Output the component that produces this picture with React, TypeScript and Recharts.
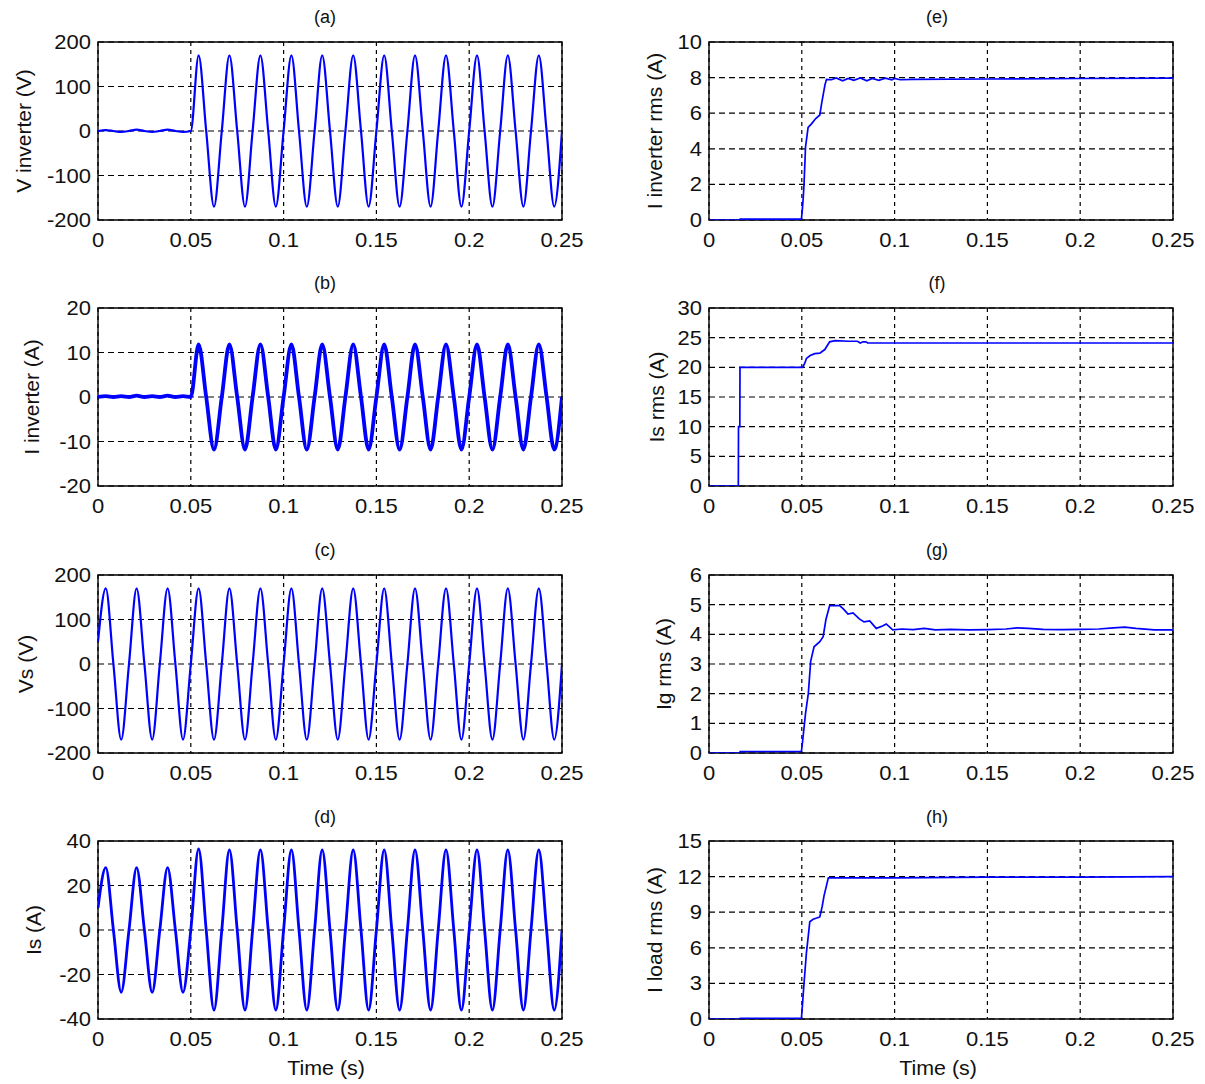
import React from "react"
import { CartesianGrid, Line, LineChart, ReferenceArea, XAxis, YAxis } from "recharts"

const FONT = "'Liberation Sans', Arial, Helvetica, sans-serif"
const BLUE = "#0000ff"
const INK = "#111"

const X_TICKS = [0, 0.05, 0.1, 0.15, 0.2, 0.25]

// quarter-cycle sample times (60 Hz) shared by the four waveforms
const T_Q = [
  0, 0.0042, 0.0083, 0.0125, 0.0167, 0.0208, 0.025, 0.0292, 0.0333, 0.0375,
  0.0417, 0.0458, 0.05, 0.0542, 0.0583, 0.0625, 0.0667, 0.0708, 0.075, 0.0792,
  0.0833, 0.0875, 0.0917, 0.0958, 0.1, 0.1042, 0.1083, 0.1125, 0.1167, 0.1208,
  0.125, 0.1292, 0.1333, 0.1375, 0.1417, 0.1458, 0.15, 0.1542, 0.1583, 0.1625,
  0.1667, 0.1708, 0.175, 0.1792, 0.1833, 0.1875, 0.1917, 0.1958, 0.2, 0.2042,
  0.2083, 0.2125, 0.2167, 0.2208, 0.225, 0.2292, 0.2333, 0.2375, 0.2417, 0.2458,
  0.25,
]

// (a) inverter voltage
const V_INV = [
  0, 2, 0, -2, 0, 3, 0, -2, 0, 3,
  0, -2, 0, 170, 0, -170, 0, 170, 0, -170,
  0, 170, 0, -170, 0, 170, 0, -170, 0, 170,
  0, -170, 0, 170, 0, -170, 0, 170, 0, -170,
  0, 170, 0, -170, 0, 170, 0, -170, 0, 170,
  0, -170, 0, 170, 0, -170, 0, 170, 0, -170,
  0,
]

// (b) inverter current
const I_INV = [
  0, 0.2, 0, 0.2, 0, 0.3, 0, 0.2, 0, 0.3,
  0, 0.2, 0, 11.8, 0, -11.8, 0, 11.8, 0, -11.8,
  0, 11.8, 0, -11.8, 0, 11.8, 0, -11.8, 0, 11.8,
  0, -11.8, 0, 11.8, 0, -11.8, 0, 11.8, 0, -11.8,
  0, 11.8, 0, -11.8, 0, 11.8, 0, -11.8, 0, 11.8,
  0, -11.8, 0, 11.8, 0, -11.8, 0, 11.8, 0, -11.8,
  0,
]

// (c) source voltage
const VS = [
  50, 170, 0, -170, 0, 170, 0, -170, 0, 170,
  0, -170, 0, 170, 0, -170, 0, 170, 0, -170,
  0, 170, 0, -170, 0, 170, 0, -170, 0, 170,
  0, -170, 0, 170, 0, -170, 0, 170, 0, -170,
  0, 170, 0, -170, 0, 170, 0, -170, 0, 170,
  0, -170, 0, 170, 0, -170, 0, 170, 0, -170,
  0,
]

// (d) source current
const IS = [
  10, 28, 0, -28, 0, 28, 0, -28, 0, 28,
  0, -28, 0, 36.5, 0, -36, 0, 36, 0, -36,
  0, 36, 0, -36, 0, 36, 0, -36, 0, 36,
  0, -36, 0, 36, 0, -36, 0, 36, 0, -36,
  0, 36, 0, -36, 0, 36, 0, -36, 0, 36,
  0, -36, 0, 36, 0, -36, 0, 36, 0, -36,
  0,
]

// (e) inverter current rms
const I_INV_RMS_T = [
  0, 0.0167, 0.0168, 0.0498, 0.0503, 0.0508, 0.0512, 0.052, 0.0534, 0.0552,
  0.0575, 0.0597, 0.0606, 0.0625, 0.0633, 0.066, 0.0685, 0.072, 0.075, 0.078,
  0.0815, 0.085, 0.088, 0.0915, 0.095, 0.0985, 0.1, 0.103, 0.11, 0.15, 0.2, 0.25,
]
const I_INV_RMS = [
  0, 0, 0.05, 0.05, 0.6, 1.3, 2, 4.1, 5.2, 5.4,
  5.7, 5.9, 6.5, 7.6, 7.9, 7.88, 7.98, 7.82, 7.95, 7.85,
  7.98, 7.82, 7.95, 7.85, 7.97, 7.88, 7.95, 7.88, 7.9, 7.92, 7.95, 7.97,
]

// (f) source current rms
const IS_RMS_T = [
  0, 0.0158, 0.0159, 0.0166, 0.0167, 0.0505, 0.0516, 0.0525, 0.0545, 0.057,
  0.0597, 0.0624, 0.065, 0.068, 0.075, 0.08, 0.0815, 0.083, 0.0845, 0.0855,
  0.1, 0.15, 0.2, 0.25,
]
const IS_RMS = [
  0, 0, 10, 10, 20, 20, 20.7, 21.5, 22, 22.3,
  22.4, 23, 24.3, 24.5, 24.4, 24.4, 24.1, 24.3, 24.3, 24.1,
  24.1, 24.1, 24.1, 24.1,
]

// (g) grid current rms
const IG_RMS_T = [
  0, 0.0167, 0.0168, 0.0498, 0.0505, 0.052, 0.0535, 0.0548, 0.0566, 0.0597,
  0.0615, 0.063, 0.065, 0.0704, 0.0725, 0.0749, 0.0776, 0.081, 0.0835, 0.0866,
  0.0901, 0.0935, 0.0955, 0.099, 0.104, 0.11, 0.116, 0.122, 0.13, 0.14,
  0.15, 0.16, 0.166, 0.172, 0.18, 0.19, 0.2, 0.21, 0.218, 0.224,
  0.23, 0.24, 0.25,
]
const IG_RMS = [
  0, 0, 0.05, 0.05, 0.43, 1.33, 2.0, 3.1, 3.58, 3.75,
  3.92, 4.5, 4.97, 4.97, 4.85, 4.68, 4.72, 4.52, 4.42, 4.45,
  4.2, 4.28, 4.35, 4.15, 4.18, 4.16, 4.2, 4.15, 4.17, 4.15,
  4.16, 4.18, 4.22, 4.2, 4.17, 4.16, 4.17, 4.18, 4.22, 4.24,
  4.2, 4.15, 4.15,
]

// (h) load current rms
const ILOAD_RMS_T = [
  0, 0.0167, 0.0168, 0.0498, 0.0505, 0.0511, 0.0525, 0.0535, 0.0543, 0.0561,
  0.0597, 0.061, 0.062, 0.0643, 0.07, 0.1, 0.15, 0.2, 0.25,
]
const ILOAD_RMS = [
  0, 0, 0.05, 0.05, 1.5, 2.8, 5.6, 7.0, 8.2, 8.4,
  8.6, 9.5, 10.4, 11.9, 11.9, 11.9, 11.95, 11.95, 12,
]

interface Panel {
  id: string
  title: string
  ylabel: string
  t: number[]
  v: number[]
  yTicks: number[]
  col: number
  row: number
  labelX: number
  stroke: number
  smooth: boolean
}

const PANELS: Panel[] = [
  { id: "a", title: "(a)", ylabel: "V inverter (V)", t: T_Q, v: V_INV, yTicks: [-200, -100, 0, 100, 200], col: 0, row: 0, labelX: 24, stroke: 2.2, smooth: true },
  { id: "b", title: "(b)", ylabel: "I inverter (A)", t: T_Q, v: I_INV, yTicks: [-20, -10, 0, 10, 20], col: 0, row: 1, labelX: 32, stroke: 3.8, smooth: true },
  { id: "c", title: "(c)", ylabel: "Vs (V)", t: T_Q, v: VS, yTicks: [-200, -100, 0, 100, 200], col: 0, row: 2, labelX: 26, stroke: 2.2, smooth: true },
  { id: "d", title: "(d)", ylabel: "Is (A)", t: T_Q, v: IS, yTicks: [-40, -20, 0, 20, 40], col: 0, row: 3, labelX: 34, stroke: 2.8, smooth: true },
  { id: "e", title: "(e)", ylabel: "I inverter rms (A)", t: I_INV_RMS_T, v: I_INV_RMS, yTicks: [0, 2, 4, 6, 8, 10], col: 1, row: 0, labelX: 655, stroke: 1.7, smooth: false },
  { id: "f", title: "(f)", ylabel: "Is rms (A)", t: IS_RMS_T, v: IS_RMS, yTicks: [0, 5, 10, 15, 20, 25, 30], col: 1, row: 1, labelX: 657, stroke: 1.7, smooth: false },
  { id: "g", title: "(g)", ylabel: "Ig rms (A)", t: IG_RMS_T, v: IG_RMS, yTicks: [0, 1, 2, 3, 4, 5, 6], col: 1, row: 2, labelX: 664, stroke: 1.7, smooth: false },
  { id: "h", title: "(h)", ylabel: "I load rms (A)", t: ILOAD_RMS_T, v: ILOAD_RMS, yTicks: [0, 3, 6, 9, 12, 15], col: 1, row: 3, labelX: 655, stroke: 1.7, smooth: false },
]

const ROW_TOP = [0, 266, 533, 799]
const COL_LEFT = [0, 611]
const CHART_W = 600
const CHART_H = 260
const PLOT_TOP = 42
const PLOT_LEFT = 98
const PLOT_RIGHT = 562

function XTick({ x, y, payload }: any) {
  return (
    <text
      transform={`translate(${x} ${y + 27}) scale(1.1 1)`}
      textAnchor="middle"
      fontSize={20}
      fontFamily={FONT}
      fill={INK}
    >
      {String(payload.value)}
    </text>
  )
}

function YTick({ x, y, payload }: any) {
  return (
    <text
      transform={`translate(${x - 7} ${y + 7}) scale(1.1 1)`}
      textAnchor="end"
      fontSize={20}
      fontFamily={FONT}
      fill={INK}
    >
      {String(payload.value)}
    </text>
  )
}

function PanelChart({ p }: { p: Panel }) {
  const data = p.t.map((t, i) => ({ t, v: p.v[i] }))
  const lo = p.yTicks[0]
  const hi = p.yTicks[p.yTicks.length - 1]
  return (
    <div style={{ position: "absolute", left: COL_LEFT[p.col], top: ROW_TOP[p.row] }}>
      <LineChart
        width={CHART_W}
        height={CHART_H}
        data={data}
        margin={{ top: PLOT_TOP, right: CHART_W - PLOT_RIGHT, bottom: 0, left: 0 }}
      >
        <CartesianGrid vertical={false} stroke="#000" strokeWidth={1.2} strokeDasharray="6 4" />
        <CartesianGrid horizontal={false} stroke="#000" strokeWidth={1.2} strokeDasharray="4 4" />
        <XAxis
          dataKey="t"
          type="number"
          domain={[0, 0.25]}
          ticks={X_TICKS}
          allowDataOverflow
          height={40}
          axisLine={false}
          tickLine={false}
          tickSize={0}
          tickMargin={0}
          tick={<XTick />}
        />
        <YAxis
          type="number"
          domain={[lo, hi]}
          ticks={p.yTicks}
          allowDataOverflow
          width={PLOT_LEFT}
          axisLine={false}
          tickLine={false}
          tickSize={0}
          tickMargin={0}
          tick={<YTick />}
        />
        <Line
          dataKey="v"
          type={p.smooth ? "monotone" : "linear"}
          stroke={BLUE}
          strokeWidth={p.stroke}
          dot={false}
          activeDot={false}
          isAnimationActive={false}
        />
        <ReferenceArea x1={0} x2={0.25} y1={lo} y2={hi} fill="none" stroke="#000" strokeWidth={1.4} />
      </LineChart>
    </div>
  )
}

const TITLE_X = [325, 937]
const TITLE_Y = [17, 283, 550, 817]

export default function App() {
  return (
    <div
      style={{
        position: "absolute",
        left: 0,
        top: 0,
        width: 1205,
        height: 1084,
        background: "#fff",
        fontFamily: FONT,
        color: INK,
        overflow: "hidden",
      }}
    >
      {PANELS.map((p) => (
        <PanelChart key={p.id} p={p} />
      ))}
      {PANELS.map((p) => (
        <div
          key={`title-${p.id}`}
          style={{
            position: "absolute",
            left: TITLE_X[p.col],
            top: TITLE_Y[p.row],
            transform: "translate(-50%, -50%)",
            fontSize: 18,
            whiteSpace: "nowrap",
          }}
        >
          {p.title}
        </div>
      ))}
      {PANELS.map((p) => (
        <div
          key={`ylabel-${p.id}`}
          style={{
            position: "absolute",
            left: p.labelX,
            top: ROW_TOP[p.row] + PLOT_TOP + 89,
            transform: "translate(-50%, -50%) rotate(-90deg)",
            fontSize: 21,
            whiteSpace: "nowrap",
          }}
        >
          {p.ylabel}
        </div>
      ))}
      {[326, 938].map((cx) => (
        <div
          key={`time-${cx}`}
          style={{
            position: "absolute",
            left: cx,
            top: 1068,
            transform: "translate(-50%, -50%) scaleX(1.07)",
            fontSize: 20,
            whiteSpace: "nowrap",
          }}
        >
          Time (s)
        </div>
      ))}
    </div>
  )
}
